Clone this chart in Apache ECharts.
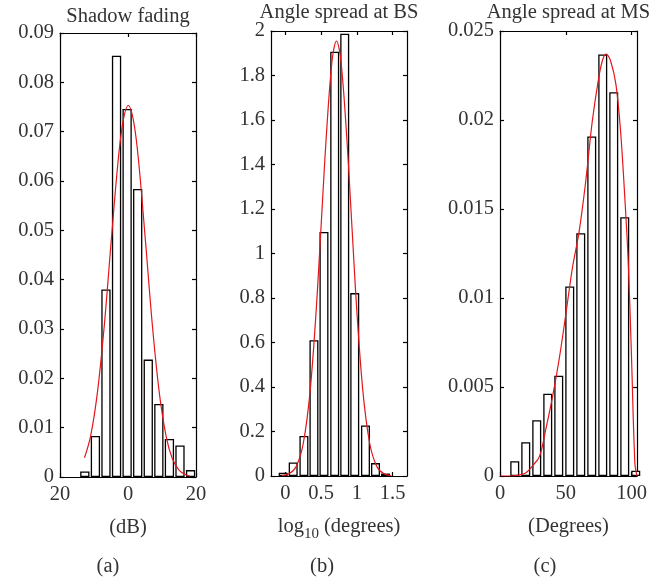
<!DOCTYPE html>
<html><head><meta charset="utf-8">
<script src="https://cdn.jsdelivr.net/npm/echarts@6/dist/echarts.min.js"></script>
<style>html,body{margin:0;padding:0;background:#fff}#c{width:669px;height:579px}</style>
</head><body><div id="c"></div>
<script>
// ---- Panel (a): Shadow fading ----
const shadowBinCenters = [-12.7, -9.59, -6.48, -3.37, -0.26, 2.85, 5.96, 9.07, 12.18, 15.29, 18.4];
const shadowDensity = [0.0011, 0.0083, 0.038, 0.0854, 0.0746, 0.0584, 0.0238, 0.0148, 0.0077, 0.0064, 0.0014];
const shadowFitX = [-12.8, -11, -9, -7, -5, -3, -1.5, 0.1, 1.7, 3.2, 5.2, 7.2, 9.2, 11.2, 13, 15, 17, 18.2];
const shadowFitY = [0.0039, 0.0083, 0.0171, 0.0305, 0.0473, 0.0634, 0.0719, 0.0753, 0.0719, 0.0634, 0.0473, 0.0305, 0.0171, 0.0083, 0.0038, 0.0014, 0.00045, 0.0002];
const shadowXTicks = [-20, 0, 20];
const shadowYTicks = [0, 0.01, 0.02, 0.03, 0.04, 0.05, 0.06, 0.07, 0.08, 0.09];

// ---- Panel (b): Angle spread at BS ----
const bsBinCenters = [-0.03, 0.11, 0.26, 0.40, 0.54, 0.69, 0.83, 0.97, 1.12, 1.26, 1.40];
const bsDensity = [0.015, 0.061, 0.18, 0.61, 1.097, 1.907, 1.988, 0.822, 0.227, 0.058, 0.011];
const bsFitX = [-0.05, 0.05, 0.15, 0.25, 0.35, 0.45, 0.55, 0.65, 0.715, 0.78, 0.88, 0.98, 1.08, 1.18, 1.28, 1.38, 1.48];
const bsFitY = [0.0017, 0.0096, 0.042, 0.145, 0.394, 0.840, 1.41, 1.858, 1.955, 1.858, 1.41, 0.840, 0.394, 0.145, 0.042, 0.0096, 0.0017];
const bsXTicks = [0, 0.5, 1, 1.5];
const bsYTicks = [0, 0.2, 0.4, 0.6, 0.8, 1, 1.2, 1.4, 1.6, 1.8, 2];

// ---- Panel (c): Angle spread at MS ----
const msBinCenters = [11.2, 19.55, 27.9, 36.25, 44.6, 52.95, 61.3, 69.65, 78.0, 86.35, 94.7, 103.05];
const msDensity = [0.00083, 0.0019, 0.00313, 0.00462, 0.00563, 0.01065, 0.01364, 0.01907, 0.02368, 0.02156, 0.01454, 0.0003];
const msFitX = [0, 8, 12, 16, 20, 25, 30, 35, 40, 45, 50, 55, 60, 65, 70, 75, 78, 80.5, 84, 88, 91.5, 94.7, 97.3, 99.7, 102.4, 104];
const msFitY = [0, 0, 0.00002, 0.00008, 0.0002, 0.0006, 0.0011, 0.0027, 0.0045, 0.0066, 0.0091, 0.0117, 0.0137, 0.0165, 0.0199, 0.0224, 0.0234, 0.0237, 0.0233, 0.0220, 0.0194, 0.0157, 0.0121, 0.0070, 0.0007, 0];
const msXTicks = [0, 50, 100];
const msYTicks = [0, 0.005, 0.01, 0.015, 0.02, 0.025];

const titles = ['Shadow fading', 'Angle spread at BS', 'Angle spread at MS'];
const xNames = ['(dB)', '{m|log}{s|10}{m| (degrees)}', '(Degrees)'];
const panelLabels = ['(a)', '(b)', '(c)'];

const FONT = '"Liberation Serif", "DejaVu Serif", serif';
const FS = 20.5;
const TXT = '#333';
const LINE = '#000';

const zip = (a, b) => a.map((v, i) => [v, b[i]]);

const panels = [
  { grid: { left: 60, top: 33, width: 136, height: 444 }, xr: [-20, 20], yr: [0, 0.09],
    xt: shadowXTicks, yt: shadowYTicks, bars: zip(shadowBinCenters, shadowDensity),
    fit: zip(shadowFitX, shadowFitY), bw: 9.3, titleGap: 6, xfmt: v => String(Math.abs(v)) },
  { grid: { left: 271, top: 31, width: 136, height: 445 }, xr: [-0.2, 1.7], yr: [0, 2],
    xt: bsXTicks, yt: bsYTicks, bars: zip(bsBinCenters, bsDensity),
    fit: zip(bsFitX, bsFitY), bw: 9, titleGap: 8, xfmt: v => String(v) },
  { grid: { left: 500, top: 31, width: 137, height: 445 }, xr: [0, 104], yr: [0, 0.025],
    xt: msXTicks, yt: msYTicks, bars: zip(msBinCenters, msDensity),
    fit: zip(msFitX, msFitY), bw: 9, titleGap: 8, xfmt: v => String(v) }
];

const grids = [], xAxes = [], yAxes = [], series = [], graphics = [];
const lineStyle = { color: LINE, width: 1.2 };
const labelStyle = { color: TXT, fontFamily: FONT, fontSize: FS };

panels.forEach((p, i) => {
  grids.push(Object.assign({ outerBoundsMode: 'none', containLabel: false }, p.grid));
  const xb = xAxes.length;
  xAxes.push({
    gridIndex: i, type: 'value', position: 'bottom', min: p.xr[0], max: p.xr[1],
    axisLine: { show: true, onZero: false, lineStyle },
    axisTick: { show: true, inside: true, length: 4, customValues: p.xt, lineStyle },
    axisLabel: Object.assign({ customValues: p.xt, formatter: p.xfmt, margin: 7, showMinLabel: true, showMaxLabel: true }, labelStyle),
    splitLine: { show: false },
    name: xNames[i], nameLocation: 'middle', nameGap: 40,
    nameTextStyle: Object.assign({
      rich: {
        m: { fontFamily: FONT, fontSize: FS, color: TXT, lineHeight: 20, verticalAlign: 'top' },
        s: { fontFamily: FONT, fontSize: 15, color: TXT, lineHeight: 15, padding: [11, 0, 0, 0], verticalAlign: 'top' }
      }
    }, labelStyle)
  });
  xAxes.push({
    gridIndex: i, type: 'value', position: 'top', min: p.xr[0], max: p.xr[1],
    axisLine: { show: true, onZero: false, lineStyle },
    axisTick: { show: true, inside: true, length: 4, customValues: p.xt, lineStyle },
    axisLabel: { show: false },
    splitLine: { show: false },
    name: titles[i], nameLocation: 'middle', nameGap: p.titleGap,
    nameTextStyle: labelStyle
  });
  const yb = yAxes.length;
  yAxes.push({
    gridIndex: i, type: 'value', position: 'left', min: p.yr[0], max: p.yr[1],
    axisLine: { show: true, onZero: false, lineStyle },
    axisTick: { show: true, inside: true, length: 4, customValues: p.yt, lineStyle },
    axisLabel: Object.assign({ customValues: p.yt, margin: 6, showMinLabel: true, showMaxLabel: true }, labelStyle),
    splitLine: { show: false }
  });
  yAxes.push({
    gridIndex: i, type: 'value', position: 'right', min: p.yr[0], max: p.yr[1],
    axisLine: { show: true, onZero: false, lineStyle },
    axisTick: { show: true, inside: true, length: 4, customValues: p.yt, lineStyle },
    axisLabel: { show: false },
    splitLine: { show: false }
  });
  series.push({
    type: 'bar', xAxisIndex: xb, yAxisIndex: yb, data: p.bars, barWidth: p.bw, clip: true,
    itemStyle: { color: '#fff', borderColor: '#000', borderWidth: 1.3 }, silent: true, z: 2
  });
  series.push({
    type: 'line', xAxisIndex: xb, yAxisIndex: yb, data: p.fit, smooth: 0.35, showSymbol: false,
    lineStyle: { color: '#e3161b', width: 1.2 }, silent: true, z: 5, clip: true
  });
});

const labelX = [108, 322, 545];
panelLabels.forEach((t, i) => {
  graphics.push({
    type: 'text', x: labelX[i], y: 567,
    style: { text: t, font: FS + 'px ' + FONT, fill: TXT, textAlign: 'center', textVerticalAlign: 'middle', align: 'center', verticalAlign: 'middle' }
  });
});

const chart = echarts.init(document.getElementById('c'), null, { renderer: 'canvas' });
chart.setOption({
  animation: false,
  backgroundColor: '#fff',
  grid: grids, xAxis: xAxes, yAxis: yAxes, series: series, graphic: graphics
});
</script></body></html>
